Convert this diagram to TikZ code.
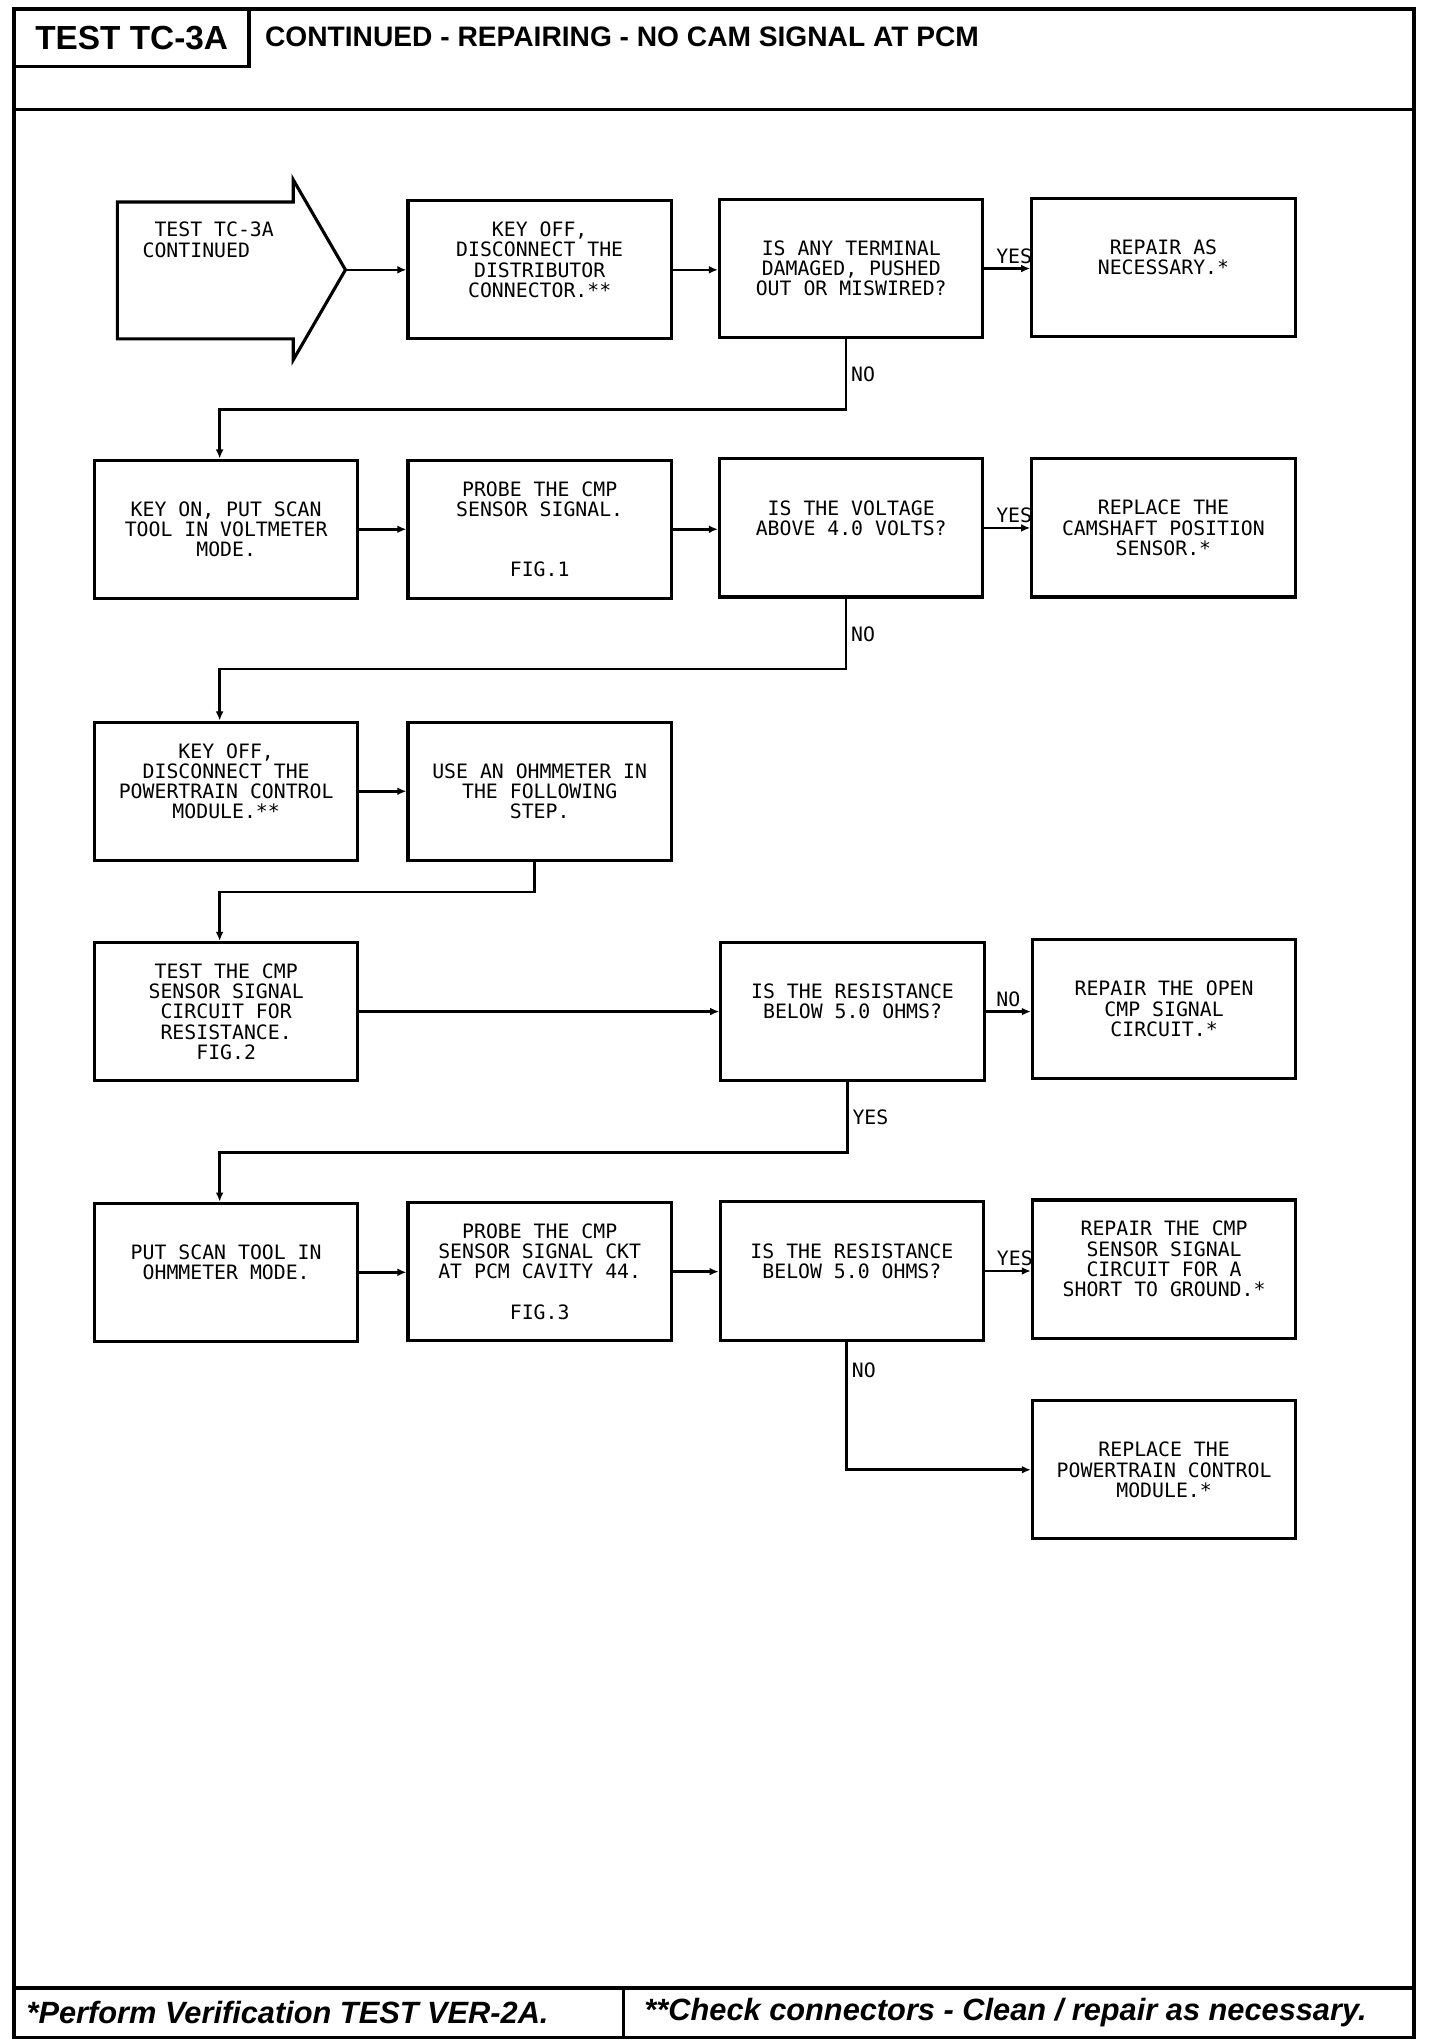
\documentclass[tikz,border=0pt]{standalone}
\usepackage{fontspec}
\usetikzlibrary{arrows.meta}
\newfontfamily\plotfont{DejaVu Sans Mono}
\newfontfamily\headfont{Liberation Sans}

\tikzset{
  box/.style={draw, line width=1.2pt, minimum width=101pt, minimum height=53pt,
    inner sep=0pt, align=center, font=\plotfont\fontsize{7.6}{7.75}\selectfont},
  flow/.style={line width=1pt, -{Latex[length=3.5pt,width=3pt]}},
  lbl/.style={font=\plotfont\fontsize{7.6}{7.75}\selectfont, inner sep=1.5pt},
}

\begin{document}
\begin{tikzpicture}[x=0.5pt, y=-0.5pt]
        \useasboundingbox (0,0) rectangle (1105,1568);

        % page frame
        \draw[line width=1.5pt] (11,7) rectangle (1085,1563);
        \draw[line width=1.5pt] (11,84) -- (1085,84);
        \draw[line width=1.5pt] (11,1525) -- (1085,1525);
        \draw[line width=1.2pt] (478,1525) -- (478,1563);

        \node[draw, line width=1.2pt, minimum width=90pt, minimum height=22pt, font=\headfont\bfseries\fontsize{12.8}{14}\selectfont] (hdr) at (101,29) {TEST TC-3A};
        \node[anchor=west, inner sep=0pt, font=\headfont\bfseries\fontsize{10.8}{12}\selectfont] (title) at (203,28) {CONTINUED - REPAIRING - NO CAM SIGNAL AT PCM};
        \node[anchor=west, inner sep=0pt, font=\headfont\bfseries\itshape\fontsize{11.8}{13}\selectfont] (note1) at (20,1544) {*Perform Verification TEST VER-2A.};
        \node[anchor=west, inner sep=0pt, font=\headfont\bfseries\itshape\fontsize{11.8}{13}\selectfont] (note2) at (494,1544) {**Check connectors - Clean / repair as necessary.};

        % entry arrow
        \draw[line width=1.2pt] (90,155) -- (225,155) -- (225,138) -- (265,207) -- (225,276) -- (225,260) -- (90,260) -- cycle;
        \coordinate (start) at (265,207);
        \node[lbl, anchor=north west, align=left] (starttext) at (106,167) {~TEST TC-3A\\CONTINUED};

        % row 1
        \node[box] (keyoff) at (414,207) {KEY OFF,\\DISCONNECT THE\\DISTRIBUTOR\\CONNECTOR.**\\~};
        \node[box] (terminal) at (653,206) {IS ANY TERMINAL\\DAMAGED, PUSHED\\OUT OR MISWIRED?};
        \node[box] (repair) at (892.5,205) {REPAIR AS\\NECESSARY.*\\~};

        % row 2
        \node[box] (keyon) at (173.5,406) {KEY ON, PUT SCAN\\TOOL IN VOLTMETER\\MODE.};
        \node[box] (probe) at (414,406) {PROBE THE CMP\\SENSOR SIGNAL.\\~\\~\\FIG.1};
        \node[box] (voltage) at (653,405) {IS THE VOLTAGE\\ABOVE 4.0 VOLTS?\\~};
        \node[box] (camsensor) at (892.5,405) {REPLACE THE\\CAMSHAFT POSITION\\SENSOR.*};

        % row 3
        \node[box] (keyoffpcm) at (173.5,607) {KEY OFF,\\DISCONNECT THE\\POWERTRAIN CONTROL\\MODULE.**\\~};
        \node[box] (ohmmeter) at (414,607) {USE AN OHMMETER IN\\THE FOLLOWING\\STEP.};

        % row 4
        \node[box] (testckt) at (173.5,776) {TEST THE CMP\\SENSOR SIGNAL\\CIRCUIT FOR\\RESISTANCE.\\FIG.2};
        \node[box] (resist) at (654,776) {IS THE RESISTANCE\\BELOW 5.0 OHMS?\\~};
        \node[box] (repairopen) at (893,774) {REPAIR THE OPEN\\CMP SIGNAL\\CIRCUIT.*};

        % row 5
        \node[box] (scantool) at (173.5,976) {PUT SCAN TOOL IN\\OHMMETER MODE.\\~};
        \node[box] (probepcm) at (414,975.5) {PROBE THE CMP\\SENSOR SIGNAL CKT\\AT PCM CAVITY 44.\\~\\FIG.3};
        \node[box] (resistgnd) at (653.5,975) {IS THE RESISTANCE\\BELOW 5.0 OHMS?\\~};
        \node[box] (repairshort) at (893,973.5) {REPAIR THE CMP\\SENSOR SIGNAL\\CIRCUIT FOR A\\SHORT TO GROUND.*\\~};
        \node[box] (pcm) at (893,1127.5) {REPLACE THE\\POWERTRAIN CONTROL\\MODULE.*};

        % connectors
        \draw[flow] (start) -- (start -| keyoff.west);
        \draw[flow] (keyoff.east) -- (keyoff.east -| terminal.west);
        \draw[flow] (terminal.east) -- node[lbl, above, pos=0.65] (yes1) {YES} (terminal.east -| repair.west);
        \draw[flow] ([xshift=-2pt]terminal.south) -- node[lbl, right] (no1) {NO} ++(0,54) -| ([xshift=-2.5pt]keyon.north);

        \draw[flow] (keyon.east) -- (keyon.east -| probe.west);
        \draw[flow] (probe.east) -- (probe.east -| voltage.west);
        \draw[flow] (voltage.east) -- node[lbl, above, pos=0.65] (yes2) {YES} (voltage.east -| camsensor.west);
        \draw[flow] ([xshift=-2pt]voltage.south) -- node[lbl, right] (no2) {NO} ++(0,54) -| ([xshift=-2.5pt]keyoffpcm.north);

        \draw[flow] (keyoffpcm.east) -- (keyoffpcm.east -| ohmmeter.west);
        \draw[flow] ([xshift=-2pt]ohmmeter.south) -- ++(0,23) -| ([xshift=-2.5pt]testckt.north);

        \draw[flow] (testckt.east) -- (testckt.east -| resist.west);
        \draw[flow] (resist.east) -- node[lbl, above, pos=0.5] (no3) {NO} (resist.east -| repairopen.west);
        \draw[flow] ([xshift=-2pt]resist.south) -- node[lbl, right] (yes3) {YES} ++(0,54) -| ([xshift=-2.5pt]scantool.north);

        \draw[flow] (scantool.east) -- (scantool.east -| probepcm.west);
        \draw[flow] (probepcm.east) -- (probepcm.east -| resistgnd.west);
        \draw[flow] (resistgnd.east) -- node[lbl, above, pos=0.65] (yes4) {YES} (resistgnd.east -| repairshort.west);
        \draw[flow] ([xshift=-2pt]resistgnd.south) -- node[lbl, right, pos=0.22] (no4) {NO} ([xshift=-2pt]resistgnd.south |- pcm.west) -- (pcm.west);
\end{tikzpicture}
\end{document}
